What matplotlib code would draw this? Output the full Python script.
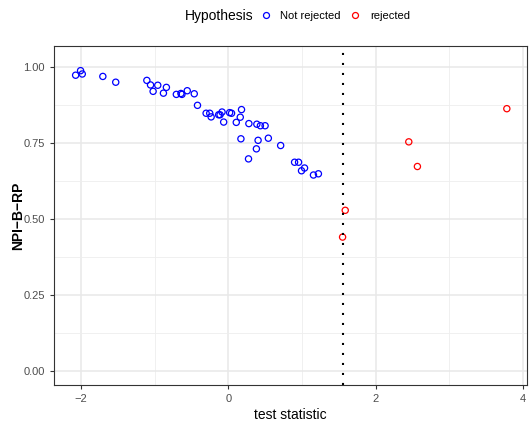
import matplotlib
matplotlib.use("Agg")
import matplotlib.pyplot as plt
from matplotlib.lines import Line2D
from matplotlib.ticker import MultipleLocator

plt.rcParams['font.family'] = ['Liberation Sans', 'DejaVu Sans']

# test statistic / NPI-B-RP for hypotheses that were not rejected
x_not = [-2.071, -2.004, -1.981, -1.702, -1.527, -1.105, -1.055, -1.020, -0.957, -0.880,
         -0.840, -0.705, -0.643, -0.629, -0.557, -0.462, -0.418, -0.301, -0.252, -0.233,
         -0.131, -0.112, -0.085, -0.063, 0.018, 0.044, 0.179, 0.162, 0.108, 0.171,
         0.279, 0.274, 0.387, 0.435, 0.499, 0.404, 0.381, 0.543, 0.710, 0.899,
         0.953, 1.034, 0.993, 1.155, 1.222]
y_not = [0.972, 0.987, 0.976, 0.968, 0.949, 0.955, 0.940, 0.919, 0.939, 0.913,
         0.932, 0.909, 0.912, 0.909, 0.921, 0.911, 0.873, 0.847, 0.847, 0.835,
         0.842, 0.842, 0.851, 0.818, 0.849, 0.847, 0.859, 0.834, 0.817, 0.763,
         0.813, 0.697, 0.811, 0.806, 0.806, 0.758, 0.730, 0.765, 0.741, 0.686,
         0.686, 0.667, 0.658, 0.644, 0.648]

# rejected hypotheses
x_rej = [3.778, 2.448, 2.565, 1.586, 1.550]
y_rej = [0.862, 0.753, 0.672, 0.528, 0.440]

critical_value = 1.55

fig = plt.figure(figsize=(5.29, 4.34), dpi=100)
ax = fig.add_axes([0.102, 0.113, 0.894, 0.781])

ax.scatter(x_not, y_not, s=20, facecolors='none', edgecolors='#0000FF', linewidths=0.9, zorder=3)
ax.scatter(x_rej, y_rej, s=20, facecolors='none', edgecolors='#FF0000', linewidths=0.9, zorder=3)
ax.axvline(critical_value, color='black', lw=1.5, linestyle=(0, (1, 3.8)), zorder=4)

ax.set_xlim(-2.365, 4.05)
ax.set_ylim(-0.046, 1.068)
ax.xaxis.set_minor_locator(MultipleLocator(1))
ax.yaxis.set_minor_locator(MultipleLocator(0.125))
ax.set_yticks([0, 0.25, 0.5, 0.75, 1.0])
ax.set_yticklabels(['0.00', '0.25', '0.50', '0.75', '1.00'])
ax.set_xticks([-2, 0, 2, 4])
ax.set_xticklabels(['\u22122', '0', '2', '4'])

ax.grid(True, which='major', color='#E8E8E8', lw=1.1, zorder=0)
ax.grid(True, which='minor', color='#EEEEEE', lw=0.6, zorder=0)
ax.set_axisbelow(True)
for s in ax.spines.values():
    s.set_color('#333333')
    s.set_linewidth(0.8)
ax.tick_params(which='major', length=3, color='#333333', labelsize=8, labelcolor='#4D4D4D')
ax.tick_params(which='minor', length=0)

ax.set_xlabel('test statistic', fontsize=10, color='black', labelpad=3)
ax.set_ylabel('NPI\u2212B\u2212RP', fontsize=10, fontweight='bold')
ax.yaxis.set_label_coords(-0.062, 0.5)

# legend at top
fig.text(0.350, 0.964, 'Hypothesis', fontsize=10, va='center', ha='left')
handles = [Line2D([], [], marker='o', ls='none', mfc='none', mec='#0000FF', ms=4.3, mew=0.9),
           Line2D([], [], marker='o', ls='none', mfc='none', mec='#FF0000', ms=4.3, mew=0.9)]
fig.legend(handles, ['Not rejected', 'rejected'], loc='center left',
           bbox_to_anchor=(0.484, 0.964), ncol=2, frameon=False, fontsize=8,
           handlelength=0.8, handletextpad=0.9, columnspacing=0.9, borderpad=0)

fig.savefig('out.png', dpi=100)
